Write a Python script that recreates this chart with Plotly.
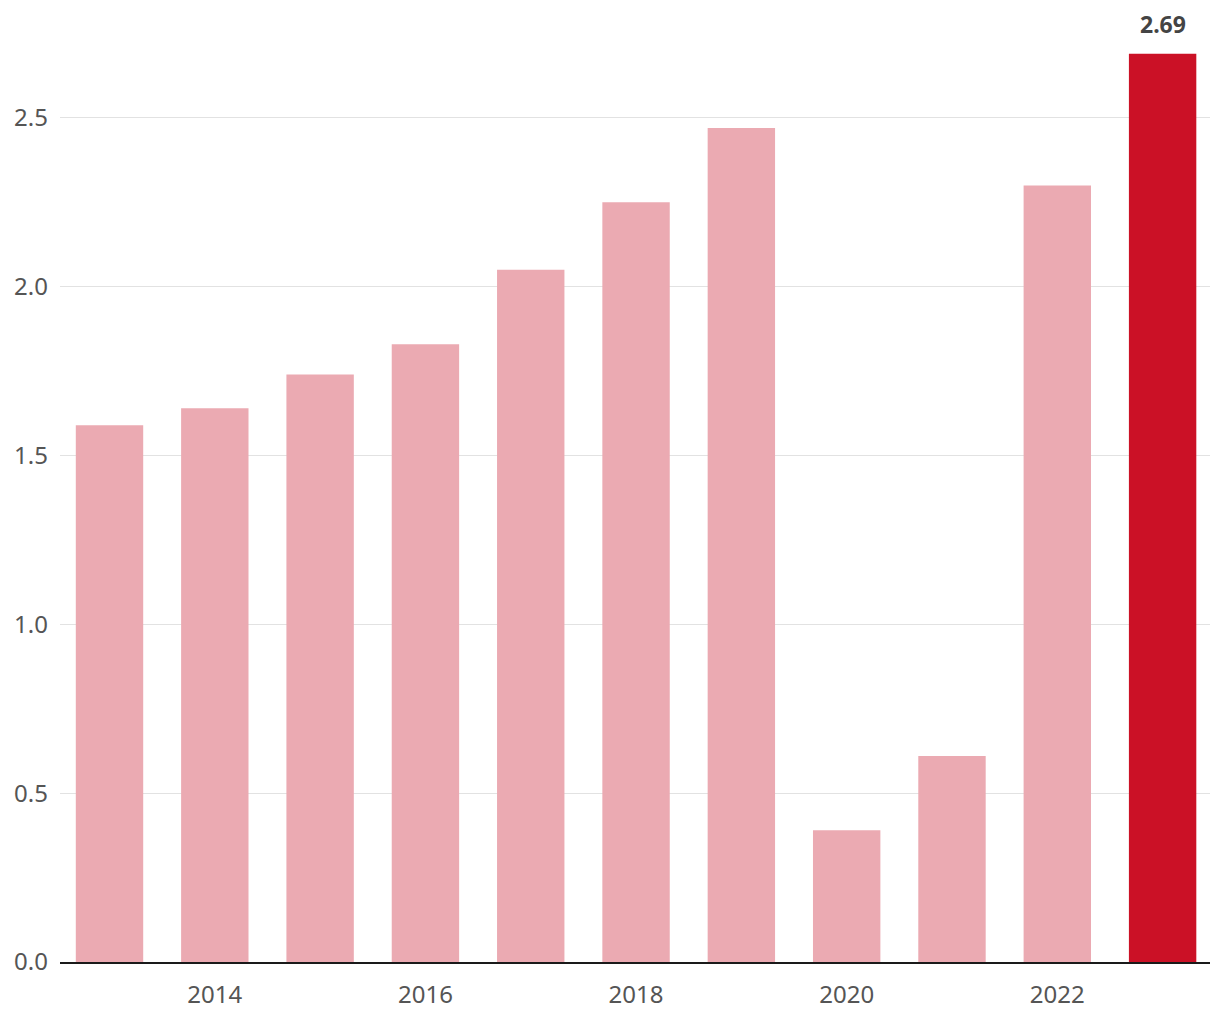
import plotly.graph_objects as go

years = [2013, 2014, 2015, 2016, 2017, 2018, 2019, 2020, 2021, 2022, 2023]
values = [1.59, 1.64, 1.74, 1.83, 2.05, 2.25, 2.47, 0.39, 0.61, 2.30, 2.69]
highlight_year = 2023
tick_years = [2014, 2016, 2018, 2020, 2022]
y_ticks = [0.0, 0.5, 1.0, 1.5, 2.0, 2.5]

colors = ["#CB1126" if y == highlight_year else "#EBAAB2" for y in years]

fig = go.Figure(go.Bar(
    x=years, y=values, marker_color=colors, marker_line_width=0,
    width=0.64,
))

hv = values[years.index(highlight_year)]
fig.add_annotation(x=highlight_year, y=hv, text=f"<b>{hv:.2f}</b>", showarrow=False,
                   yanchor="bottom", yshift=12,
                   font=dict(size=23, color="#444444", family="Noto Sans, sans-serif"))

fig.update_layout(
    width=1220, height=1020,
    margin=dict(l=60, r=10, t=20, b=56),
    paper_bgcolor="white", plot_bgcolor="white",
    font=dict(family="Noto Sans, sans-serif", color="#555555", size=24),
    showlegend=False,
    xaxis=dict(range=[2012.53, 2023.45], tickvals=tick_years, ticktext=[str(t) for t in tick_years],
               showgrid=False, showline=True, linecolor="#1a1a1a", linewidth=2,
               ticks="", ticklabelstandoff=10, zeroline=False),
    yaxis=dict(range=[0, 2.79], tickvals=y_ticks, ticktext=[f"{t:.1f}" for t in y_ticks],
               showgrid=True, gridcolor="#e2e2e2", gridwidth=1, zeroline=False,
               ticks="", ticklabelstandoff=11),
)

fig.write_html("out.html")
